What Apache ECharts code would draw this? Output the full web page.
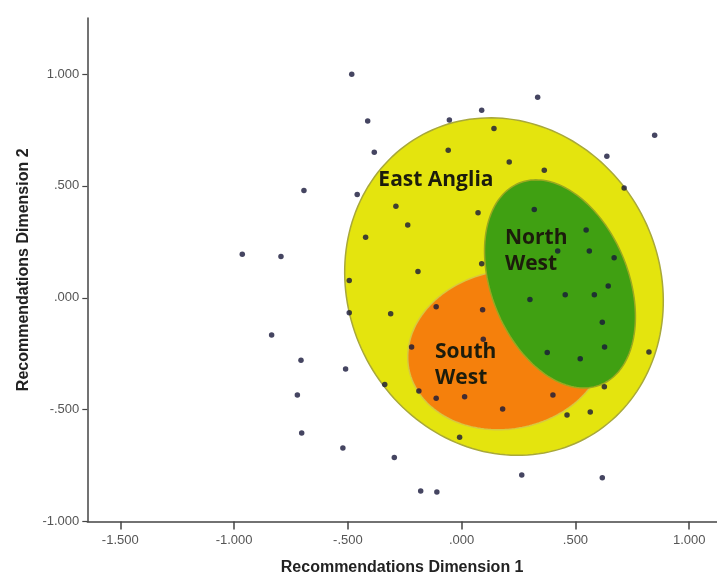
<!DOCTYPE html>
<html>
<head>
<meta charset="utf-8">
<script src="https://cdn.jsdelivr.net/npm/echarts@6/dist/echarts.min.js"></script>
<style>
html,body{margin:0;padding:0;background:#ffffff;}
#chart{width:717px;height:576px;}
</style>
</head>
<body>
<div id="chart"></div>
<script>
// ---- tick labels ----
const xTicks = [-1.5, -1.0, -0.5, 0, 0.5, 1.0];
const yTicks = [-1.0, -0.5, 0, 0.5, 1.0];

// ---- points (Recommendations Dimension 1 / Dimension 2) ----
const dim1 = [
  -0.483, -0.413, -0.054, -0.384, -0.059, -0.693, -0.459, -0.289, 0.072, -0.237,
  -0.422, -0.964, -0.794, -0.192, -0.494, 0.334, 0.088, 0.142, 0.848, 0.209,
  0.363, 0.638, 0.714, 0.319, 0.547, 0.422, 0.561, 0.670, 0.088, 0.644,
  0.455, 0.583, 0.300, -0.494, -0.312, -0.112, -0.835, -0.220, -0.706, -0.510,
  -0.338, -0.722, -0.188, -0.112, 0.013, -0.703, -0.009, -0.522, -0.296, -0.180,
  -0.109, 0.092, 0.618, 0.095, 0.376, 0.521, 0.628, 0.823, 0.627, 0.401,
  0.180, 0.463, 0.565, 0.264, 0.618
];
const dim2 = [
  0.999, 0.790, 0.794, 0.650, 0.659, 0.479, 0.461, 0.409, 0.380, 0.325,
  0.270, 0.194, 0.184, 0.117, 0.077, 0.896, 0.838, 0.756, 0.726, 0.607,
  0.570, 0.632, 0.491, 0.394, 0.303, 0.209, 0.209, 0.179, 0.152, 0.053,
  0.013, 0.013, -0.008, -0.067, -0.071, -0.040, -0.166, -0.220, -0.279, -0.318,
  -0.387, -0.434, -0.416, -0.449, -0.442, -0.604, -0.623, -0.671, -0.714, -0.863,
  -0.868, -0.053, -0.109, -0.185, -0.245, -0.272, -0.220, -0.242, -0.397, -0.434,
  -0.497, -0.524, -0.510, -0.792, -0.804
];

// ---- regions (ellipses in data units) ----
const regionNames   = ['East Anglia', 'South West', 'North West'];
const regionLabels  = ['East Anglia', 'South\nWest', 'North\nWest'];
const regionCenterX = [0.186, 0.199, 0.432];
const regionCenterY = [0.050, -0.233, 0.062];
const regionRadiusX = [0.683, 0.439, 0.301];
const regionRadiusY = [0.770, 0.353, 0.486];
const regionTilt    = [28, 11, 22];
const regionLabelX  = [-0.366, -0.117, 0.190];
const regionLabelY  = [0.526, -0.300, 0.207];

const regionFill   = ['#e4e40e', '#f5800c', '#40a012'];
const regionStroke = ['#a8a83a', '#d8c840', '#9aa820'];

function fmt(v) {
  let s = Math.abs(v).toFixed(3);
  if (s.charAt(0) === '0') s = s.slice(1);
  return (v < 0 ? '-' : '') + s;
}

const points = dim1.map((x, i) => [x, dim2[i]]);
const ellipseData = regionNames.map((n, i) => [regionCenterX[i], regionCenterY[i], regionRadiusX[i], regionRadiusY[i], regionTilt[i]]);
const labelData = regionNames.map((n, i) => [regionLabelX[i], regionLabelY[i]]);

const chart = echarts.init(document.getElementById('chart'), null, {renderer: 'canvas'});

chart.setOption({
  animation: false,
  backgroundColor: '#ffffff',
  grid: {left: 87.3, right: 0, top: 18, bottom: 54.4, containLabel: false, outerBoundsMode: 'none'},
  xAxis: {
    type: 'value',
    min: -1.645, max: 1.122,
    name: 'Recommendations Dimension 1',
    nameLocation: 'middle',
    nameGap: 38,
    nameTextStyle: {fontFamily: 'Liberation Sans', fontWeight: 'bold', fontSize: 16, color: '#222'},
    splitLine: {show: false},
    axisLine: {onZero: false, lineStyle: {color: '#444', width: 1.5}},
    axisTick: {show: true, length: 8, customValues: xTicks, lineStyle: {color: '#444', width: 1.5}},
    axisLabel: {customValues: xTicks, formatter: fmt, fontFamily: 'Liberation Sans', fontSize: 13, color: '#555', margin: 12}
  },
  yAxis: {
    type: 'value',
    min: -1.0, max: 1.25,
    name: 'Recommendations Dimension 2',
    nameLocation: 'middle',
    nameGap: 55,
    nameTextStyle: {fontFamily: 'Liberation Sans', fontWeight: 'bold', fontSize: 16, color: '#222'},
    splitLine: {show: false},
    axisLine: {onZero: false, lineStyle: {color: '#444', width: 1.5}},
    axisTick: {show: true, length: 5, customValues: yTicks, lineStyle: {color: '#444', width: 1.2}},
    axisLabel: {customValues: yTicks, formatter: fmt, fontFamily: 'Liberation Sans', fontSize: 13, color: '#555', margin: 8}
  },
  series: [
    {
      type: 'custom',
      z: 1,
      silent: true,
      data: ellipseData,
      renderItem: function (params, api) {
        const c = api.coord([api.value(0), api.value(1)]);
        const s = api.size([api.value(2), api.value(3)]);
        const th = api.value(4) * Math.PI / 180;
        const ct = Math.cos(th), st = Math.sin(th);
        const pts = [];
        for (let k = 0; k < 180; k++) {
          const t = k / 180 * Math.PI * 2;
          const lx = s[0] * Math.cos(t), ly = s[1] * Math.sin(t);
          pts.push([c[0] + lx * ct + ly * st, c[1] - lx * st + ly * ct]);
        }
        const i = params.dataIndex;
        return {
          type: 'polygon',
          shape: {points: pts},
          style: {fill: regionFill[i], stroke: regionStroke[i], lineWidth: 1.5}
        };
      }
    },
    {
      type: 'custom',
      z: 2,
      silent: true,
      data: labelData,
      renderItem: function (params, api) {
        const c = api.coord([api.value(0), api.value(1)]);
        return {
          type: 'text',
          x: c[0], y: c[1],
          style: {
            text: regionLabels[params.dataIndex],
            fontFamily: 'Open Sans',
            fontWeight: 'bold',
            fontSize: 21,
            lineHeight: 26,
            fill: '#1c1c0c',
            align: 'left',
            verticalAlign: 'middle'
          }
        };
      }
    },
    {
      type: 'scatter',
      z: 3,
      data: points,
      symbol: 'circle',
      symbolSize: 5.5,
      itemStyle: {color: '#16163a'}
    }
  ]
});
</script>
</body>
</html>
